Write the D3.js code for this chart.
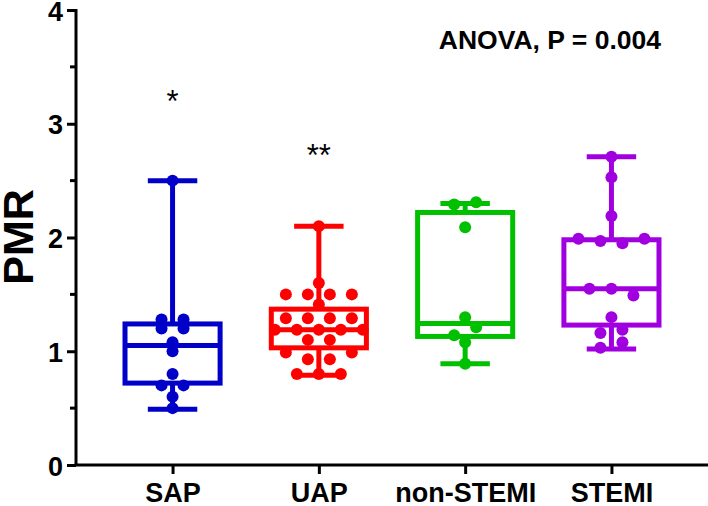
<!DOCTYPE html>
<html>
<head>
<meta charset="utf-8">
<script src="https://cdn.jsdelivr.net/npm/d3@7"></script>
<style>
  body { margin: 0; background: #fff; }
  text { font-family: "Liberation Sans", Arial, sans-serif; }
</style>
</head>
<body>
<svg id="chart" width="708" height="506"></svg>
<script>
// groups + colours
const groups = ["SAP", "UAP", "non-STEMI", "STEMI"];
const groupColors = ["#0000c8", "#ff0000", "#00c000", "#a000e0"];

// individual PMR values
const sapValues = [2.5, 1.28, 1.28, 1.2, 1.2, 1.08, 1.0, 0.8, 0.7, 0.7, 0.6, 0.5];
const uapValues = [2.1, 1.6, 1.5, 1.5, 1.5, 1.5, 1.41, 1.29, 1.29, 1.29, 1.29,
  1.19, 1.19, 1.19, 1.19, 1.19, 1.1, 1.1, 0.99, 0.99, 0.93, 0.93, 0.8, 0.8, 0.8];
const nstemiValues = [2.31, 2.29, 2.09, 1.3, 1.21, 1.14, 1.08, 0.89];
const stemiValues = [2.71, 2.53, 2.19, 1.99, 1.99, 1.97, 1.95, 1.55, 1.55, 1.49,
  1.3, 1.19, 1.16, 1.08, 1.03];

// box plot summary (min, q1, median, q3, max) per group
const boxMin = [0.49, 0.79, 0.89, 1.02];
const boxQ1 = [0.72, 1.03, 1.13, 1.23];
const boxMedian = [1.05, 1.19, 1.245, 1.55];
const boxQ3 = [1.24, 1.37, 2.22, 1.98];
const boxMax = [2.5, 2.1, 2.3, 2.71];

const yTicks = [0, 1, 2, 3, 4];
const yMinorTicks = [0.5, 1.5, 2.5, 3.5];

// significance marks above SAP and UAP
const starLabels = ["*", "**"];
const starGroups = ["SAP", "UAP"];
const starValues = [3.1, 2.63];

const pointValues = [sapValues, uapValues, nstemiValues, stemiValues];

const svg = d3.select("#chart");
const W = 708, H = 506;
const axisX = 76, axisY = 465, topY = 10;

const y = d3.scaleLinear().domain([0, 4]).range([axisY, topY]);
const x = d3.scalePoint().domain(groups).range([axisX, W]).padding(0.66);
const step = x.step();
const boxW = step * 0.65;
const capW = boxW * 0.52;
const dotR = 6;
const dotGap = 22;
const binPx = 8;

// GraphPad-like scatter: bin close values, spread each bin sideways
function layoutDots(values, cx) {
  const sorted = values.slice().sort((a, b) => b - a);
  const bins = [];
  sorted.forEach(v => {
    const last = bins[bins.length - 1];
    if (last && y(v) - y(last[0]) < binPx) last.push(v);
    else bins.push([v]);
  });
  const out = [];
  bins.forEach(bin => {
    const n = bin.length;
    const offs = d3.range(n).map(i => (i - (n - 1) / 2) * dotGap);
    let slots;
    if (n === 2) { slots = offs; bin = bin.slice().reverse(); }
    else if (n >= 4) slots = offs.slice().sort((a, b) => Math.abs(b) - Math.abs(a) || a - b);
    else slots = offs;
    bin.forEach((v, i) => out.push({ x: cx + slots[i], v: v }));
  });
  return out;
}

// boxes and whiskers
groups.forEach((g, i) => {
  const cx = x(g);
  const col = groupColors[i];
  const gr = svg.append("g").attr("stroke", col).attr("stroke-width", 5).attr("fill", "none");

  gr.append("line").attr("x1", cx).attr("x2", cx).attr("y1", y(boxQ3[i])).attr("y2", y(boxMax[i]));
  gr.append("line").attr("x1", cx).attr("x2", cx).attr("y1", y(boxQ1[i])).attr("y2", y(boxMin[i]));
  gr.append("line").attr("x1", cx - capW / 2).attr("x2", cx + capW / 2)
    .attr("y1", y(boxMax[i])).attr("y2", y(boxMax[i]));
  gr.append("line").attr("x1", cx - capW / 2).attr("x2", cx + capW / 2)
    .attr("y1", y(boxMin[i])).attr("y2", y(boxMin[i]));
  gr.append("rect").attr("x", cx - boxW / 2).attr("width", boxW)
    .attr("y", y(boxQ3[i])).attr("height", y(boxQ1[i]) - y(boxQ3[i]));
  gr.append("line").attr("x1", cx - boxW / 2).attr("x2", cx + boxW / 2)
    .attr("y1", y(boxMedian[i])).attr("y2", y(boxMedian[i]));

  svg.append("g").selectAll("circle")
    .data(layoutDots(pointValues[i], cx))
    .join("circle")
    .attr("cx", d => d.x)
    .attr("cy", d => y(d.v))
    .attr("r", dotR)
    .attr("fill", col);
});

// y axis
const yAxis = svg.append("g").attr("transform", `translate(${axisX},0)`)
  .call(d3.axisLeft(y).tickValues(yTicks).tickFormat(d3.format("d")).tickSize(9).tickPadding(4));
yAxis.select(".domain").attr("stroke-width", 3).attr("d", `M0,${topY - 1}V${axisY}`);
yAxis.selectAll(".tick line").attr("stroke-width", 3);
yAxis.selectAll(".tick text")
  .attr("font-size", 27).attr("font-weight", "bold").attr("fill", "#000")
  .attr("font-family", "Liberation Sans, Arial, sans-serif")
  .attr("dy", "0.37em");
yAxis.selectAll(".minor").data(yMinorTicks).join("line").attr("class", "minor")
  .attr("x1", -6).attr("x2", 0).attr("y1", d => y(d)).attr("y2", d => y(d))
  .attr("stroke", "#000").attr("stroke-width", 3);

// x axis
const xAxis = svg.append("g").attr("transform", `translate(0,${axisY})`)
  .call(d3.axisBottom(x).tickSize(9).tickPadding(9));
xAxis.select(".domain").attr("stroke-width", 3).attr("d", `M${axisX - 1.5},0H${W}`);
xAxis.selectAll(".tick line").attr("stroke-width", 3);
xAxis.selectAll(".tick text")
  .attr("font-size", 27).attr("font-weight", "bold").attr("fill", "#000")
  .attr("font-family", "Liberation Sans, Arial, sans-serif")
  .attr("dy", "0.71em");

// axis title
svg.append("text")
  .attr("transform", `translate(33,237) rotate(-90)`)
  .attr("text-anchor", "middle")
  .attr("font-size", 43).attr("font-weight", "bold")
  .text("PMR");

// stars
svg.selectAll(".star").data(starLabels).join("text").attr("class", "star")
  .attr("x", (d, i) => x(starGroups[i]))
  .attr("y", (d, i) => y(starValues[i]))
  .attr("text-anchor", "middle")
  .attr("font-size", 31)
  .text(d => d);

// ANOVA note
svg.append("text")
  .attr("x", 661).attr("y", 49)
  .attr("text-anchor", "end")
  .attr("font-size", 26.5).attr("font-weight", "bold")
  .text("ANOVA, P = 0.004");
</script>
</body>
</html>
